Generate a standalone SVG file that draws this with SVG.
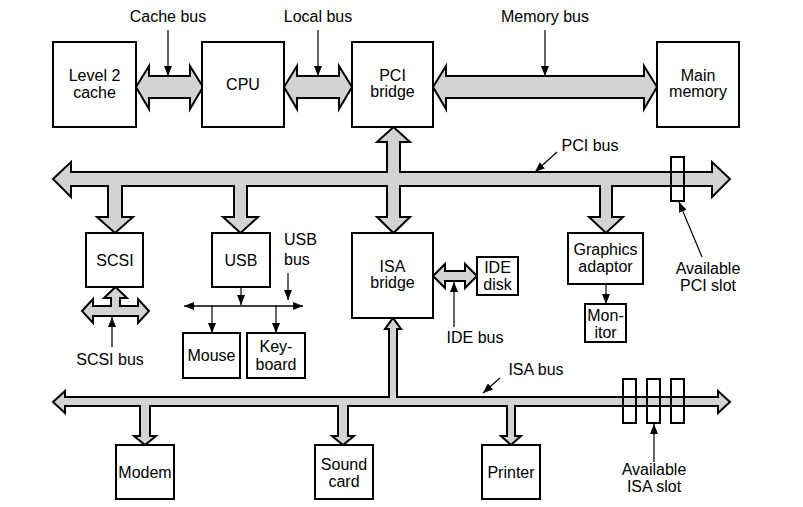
<svg xmlns="http://www.w3.org/2000/svg" width="803" height="507" viewBox="0 0 803 507">
<defs>
<marker id="ah" markerUnits="userSpaceOnUse" markerWidth="10" markerHeight="8" refX="10" refY="4" orient="auto">
<path d="M0,0 L10,4 L0,8 z" fill="#000"/>
</marker>
<style>
.box{fill:#fff;stroke:#000;stroke-width:2}
.bus{fill:#d3d3d3;stroke:#000;stroke-width:2;stroke-linejoin:miter}
.slot{fill:none;stroke:#000;stroke-width:2}
.ld{stroke:#000;stroke-width:1.2;fill:none;marker-end:url(#ah)}
text{font-family:"Liberation Sans",Arial,sans-serif;font-size:16px;fill:#000;text-anchor:middle}
</style>
</defs>
<rect width="803" height="507" fill="#fff"/>

<g id="connectors">
<rect x="671" y="157" width="13" height="44" fill="#fff" stroke="none"/>
<rect x="623" y="379" width="13" height="44" fill="#fff" stroke="none"/>
<rect x="647" y="379" width="13" height="44" fill="#fff" stroke="none"/>
<rect x="671" y="379" width="13" height="44" fill="#fff" stroke="none"/>
<polygon class="bus" id="cache-bus" points="136,87 149,66 149,76 190,76 190,66 203,87 190,109 190,98 149,98 149,109"/>
<polygon class="bus" id="local-bus" points="284,87 297,66 297,76 339,76 339,66 352,87 339,109 339,98 297,98 297,109"/>
<polygon class="bus" id="memory-bus" points="433,87 446,66 446,76 644,76 644,66 657,87 644,109 644,98 446,98 446,109"/>
<polygon class="bus" id="pci-bus" points="53,179 71,162 71,172 387,172 387,142 377,142 393.5,127 410,142 400,142 400,172 712,172 712,162 730,179 712,197 712,186 612,186 612,217 623,217 606,233 589,217 600,217 600,186 400,186 400,217 410,217 393.5,233 377,217 387,217 387,186 247,186 247,217 258,217 240.5,233 223,217 234,217 234,186 122,186 122,217 133,217 115,233 97,217 108,217 108,186 71,186 71,197"/>
<polygon class="bus" id="isa-bus" points="53,402 65,391 65,397 389,397 389,329 385,329 393,318 401,329 397,329 397,397 718,397 718,391 730,402 718,413 718,406 515,406 515,436 521,436 511,445 501,436 507,436 507,406 348,406 348,436 354,436 343,445 332,436 338,436 338,406 150,406 150,436 156,436 145,445 134,436 140,436 140,406 65,406 65,413"/>
<polygon class="bus" id="scsi-bus" points="82,311 93,299 93,306 111,306 111,298 104,298 115.5,287 127,298 120,298 120,306 138,306 138,299 149,311 138,323 138,316 93,316 93,323"/>
<polygon class="bus" id="ide-bus" points="433,276 445,264 445,271 465,271 465,264 477,276 465,288 465,281 445,281 445,288"/>
<rect class="slot" x="671" y="157" width="13" height="44"/>
<rect class="slot" x="623" y="379" width="13" height="44"/>
<rect class="slot" x="647" y="379" width="13" height="44"/>
<rect class="slot" x="671" y="379" width="13" height="44"/>
<line x1="194" y1="306" x2="303" y2="306" stroke="#000" stroke-width="1.5" marker-end="url(#ah)"/>
<path class="ld" d="M194,306 L184,306"/>
<path class="ld" d="M241,287 L241,305"/>
<path class="ld" d="M212,306 L212,333"/>
<path class="ld" d="M276,306 L276,333"/>
<path class="ld" d="M606,284 L606,304"/>
<path class="ld" d="M168,30 L168,76"/>
<path class="ld" d="M318,30 L318,76"/>
<path class="ld" d="M545,30 L545,76"/>
<path class="ld" d="M557,152 L535,172"/>
<path class="ld" d="M702,257 L679,202"/>
<path class="ld" d="M112,347 L112,317"/>
<path class="ld" d="M288,273 L288,300"/>
<path class="ld" d="M454,327 L454,282"/>
<path class="ld" d="M500,378 L483,393"/>
<path class="ld" d="M654,462 L654,424"/>
</g>

<g id="l2cache"><rect class="box" x="53" y="42" width="83" height="85"/><text x="94.5" y="81">Level 2</text><text x="94.5" y="98">cache</text></g>
<g id="cpu"><rect class="box" x="202" y="42" width="82" height="85"/><text x="243" y="90">CPU</text></g>
<g id="pci-bridge"><rect class="box" x="352" y="42" width="81" height="85"/><text x="392.5" y="81">PCI</text><text x="392.5" y="97">bridge</text></g>
<g id="main-memory"><rect class="box" x="657" y="42" width="82" height="85"/><text x="698" y="81">Main</text><text x="698" y="97">memory</text></g>
<g id="scsi"><rect class="box" x="86" y="233" width="57" height="54"/><text x="115" y="266">SCSI</text></g>
<g id="usb"><rect class="box" x="212" y="233" width="58" height="54"/><text x="241" y="266">USB</text></g>
<g id="isa-bridge"><rect class="box" x="352" y="233" width="81" height="85"/><text x="392.5" y="272">ISA</text><text x="392.5" y="288">bridge</text></g>
<g id="ide-disk"><rect class="box" x="477" y="257" width="41" height="38"/><text x="497.5" y="273">IDE</text><text x="497.5" y="290">disk</text></g>
<g id="graphics"><rect class="box" x="568" y="233" width="75" height="51"/><text x="605.5" y="255">Graphics</text><text x="605.5" y="272">adaptor</text></g>
<g id="monitor"><rect class="box" x="585" y="304" width="41" height="38"/><text x="605.5" y="321">Mon-</text><text x="605.5" y="338">itor</text></g>
<g id="mouse"><rect class="box" x="183" y="333" width="57" height="45"/><text x="211.5" y="361">Mouse</text></g>
<g id="keyboard"><rect class="box" x="247" y="333" width="58" height="45"/><text x="276" y="352">Key-</text><text x="276" y="370">board</text></g>
<g id="modem"><rect class="box" x="116" y="445" width="58" height="54"/><text x="145" y="478">Modem</text></g>
<g id="sound-card"><rect class="box" x="315" y="445" width="58" height="54"/><text x="344" y="470">Sound</text><text x="344" y="487">card</text></g>
<g id="printer"><rect class="box" x="482" y="445" width="58" height="54"/><text x="511" y="478">Printer</text></g>

<g id="labels">
<text x="168" y="22">Cache bus</text>
<text x="318" y="22">Local bus</text>
<text x="545" y="22">Memory bus</text>
<text x="590" y="151">PCI bus</text>
<text x="284" y="245" style="text-anchor:start">USB</text>
<text x="284" y="265" style="text-anchor:start">bus</text>
<text x="110" y="365">SCSI bus</text>
<text x="475" y="343">IDE bus</text>
<text x="708" y="274">Available</text>
<text x="708" y="291">PCI slot</text>
<text x="536" y="375">ISA bus</text>
<text x="654" y="475">Available</text>
<text x="654" y="492">ISA slot</text>
</g>
</svg>
